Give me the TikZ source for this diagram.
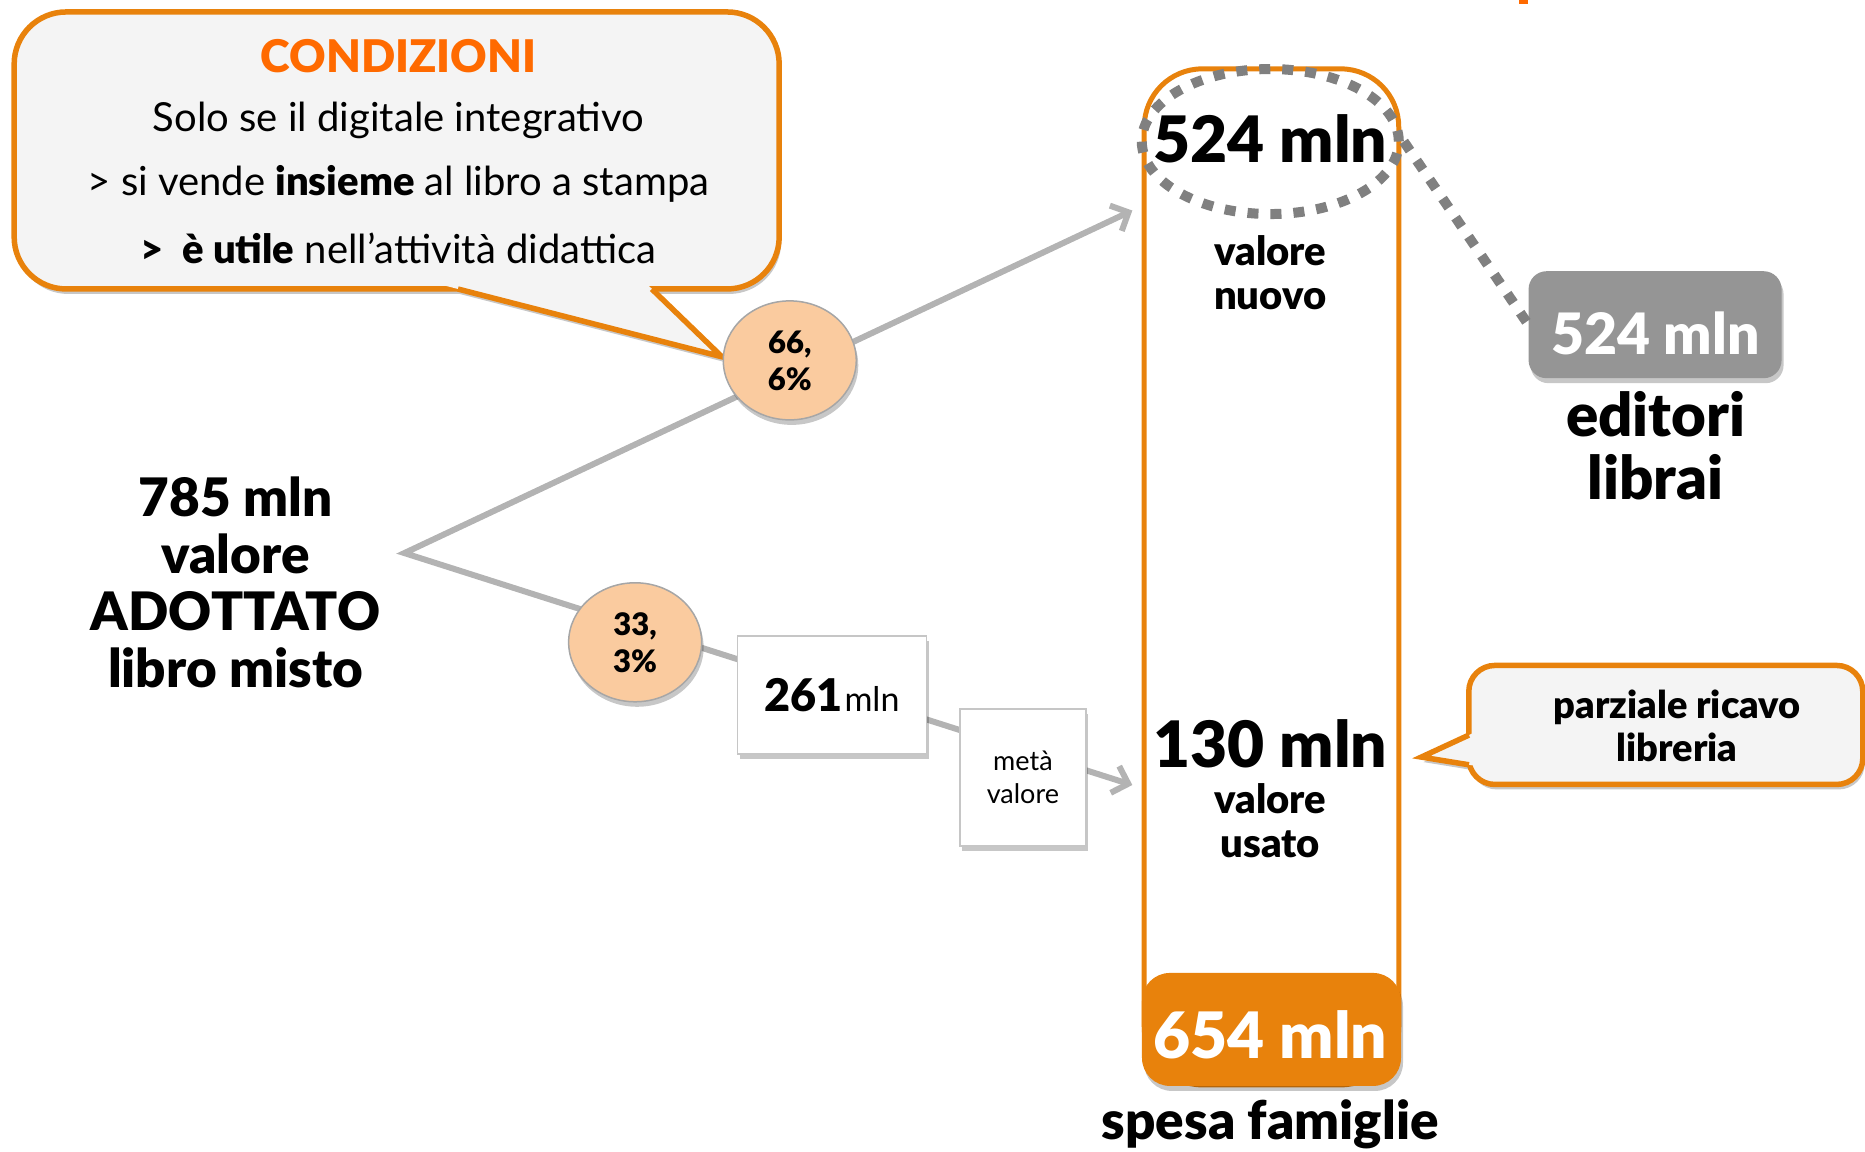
\documentclass[tikz,border=0pt]{standalone}
\usepackage{fontspec}
\setmainfont{Lato}[BoldFont={Lato Black}]
\usetikzlibrary{shadows,arrows.meta,backgrounds,shapes.geometric}
\definecolor{orng}{HTML}{E8820C}
\definecolor{orngtxt}{HTML}{FF6A00}
\definecolor{calfill}{HTML}{F4F4F4}
\definecolor{peach}{HTML}{FACB9F}
\definecolor{lgray}{HTML}{B3B3B3}
\definecolor{dgray}{HTML}{808080}
\definecolor{boxgray}{HTML}{959595}
\tikzset{
  shd/.style={drop shadow={shadow xshift=2pt,shadow yshift=-5pt,opacity=0.22,fill=black}},
  pct/.style={ellipse, fill=peach, draw=gray!70, line width=1.5pt, minimum width=133pt,
    minimum height=119pt, inner sep=0pt, align=center,
    font=\bfseries\fontsize{31}{37}\selectfont, shd},
  wbox/.style={rectangle, fill=white, draw=gray!45, line width=1.5pt, align=center,
    inner sep=0pt, shd},
  flow/.style={lgray, line width=6pt, line join=miter},
  bigtxt/.style={font=\bfseries\fontsize{64}{68}\selectfont, inner sep=0pt},
  midtxt/.style={font=\bfseries\fontsize{40}{44}\selectfont, align=center, inner sep=0pt},
  caltxt/.style={font=\fontsize{40}{44}\selectfont, inner sep=0pt},
  dots/.style={draw=dgray, line width=10pt, dash pattern=on 11pt off 12pt},
  callout/.style={rectangle, fill=calfill, draw=orng, line width=5.5pt, inner sep=0pt},
}
\begin{document}
\begin{tikzpicture}[x=1.1894pt,y=-1.1894pt]
\useasboundingbox (0,0) rectangle (1568,968);
% fragment of cut-off title
\fill[orngtxt] (1277,0) rectangle (1285,3.5);

% ---- callout CONDIZIONI
\fill[black,opacity=0.22,xshift=2pt,yshift=-5pt] (385,243) -- (607,300) -- (548,243) -- cycle;
\node[callout, rounded corners=52pt, minimum width=765pt, minimum height=277pt, shd]
  (cond) at (333.5,126.5) {};
\fill[calfill] (358,236) -- (607,300) -- (541,236) -- cycle;
\draw[orng, line width=5.5pt, line join=miter] (385,243) -- (607,300) -- (548,243);
\node[font=\bfseries\fontsize{45}{48}\selectfont, text=orngtxt, inner sep=0pt] (ctitle) at (335,47) {CONDIZIONI};
\node[caltxt] (cl1) at (335,101) {Solo se il digitale integrativo};
\node[caltxt] (cl2) at (335,155) {> si vende \textbf{insieme} al libro a stampa};
\node[caltxt] (cl3) at (335,209) {\textbf{>\ \ è utile} nell’attività didattica};

% ---- left text
\node[font=\bfseries\fontsize{53}{57}\selectfont, align=center, inner sep=0pt] (adott) at (198,490)
  {785 mln\\valore\\ADOTTATO\\libro misto};

% ---- percentage circles and boxes
\node[pct] (c66) at (664,303) {66,\\6\%};
\node[pct] (c33) at (534,540) {33,\\3\%};
\node[wbox, minimum width=189pt, minimum height=118pt] (b261) at (699.5,584.5)
  {{\bfseries\fontsize{45}{50}\selectfont 261}\,{\fontsize{34}{40}\selectfont mln}};
\node[wbox, minimum width=126pt, minimum height=137pt, font=\fontsize{27}{33}\selectfont]
  (meta) at (860,653.5) {metà\\valore};

% ---- column
\node[rectangle, draw=orng, fill=white, line width=5pt, rounded corners=58pt,
  minimum width=254.5pt, minimum height=1016pt] (col) at (1069,485) {};
\node[rectangle, fill=orng, rounded corners=28pt, minimum width=259pt, minimum height=113pt, shd]
  (tot) at (1069,865.5) {};
\node[bigtxt, text=white] (totxt) at (1068,870) {654 mln};
\node[ellipse, dots, minimum width=257pt, minimum height=145pt] (ell) at (1068,119) {};
\node[bigtxt] (nuovo) at (1068,117) {524 mln};
\node[midtxt] (nuovotxt) at (1068,229) {valore\\nuovo};
\node[bigtxt] (usato) at (1068,625) {130 mln};
\node[midtxt] (usatotxt) at (1068,690) {valore\\usato};
\node[font=\bfseries\fontsize{53}{58}\selectfont, inner sep=0pt] (spesa) at (1068,945) {spesa famiglie};

% ---- editori
\node[rectangle, fill=boxgray, rounded corners=18pt, minimum width=253pt, minimum height=107pt, shd]
  (gbox) at (1391.5,273) {};
\node[font=\bfseries\fontsize{57}{62}\selectfont, text=white, inner sep=0pt] (gtxt) at (1392,280) {524 mln};
\node[font=\bfseries\fontsize{60}{63}\selectfont, align=center, inner sep=0pt] (edit) at (1392,375)
  {editori\\librai};
\draw[dots] (ell.east) -- (gbox.west);

% ---- callout parziale ricavo
\fill[black,opacity=0.22,xshift=2pt,yshift=-5pt] (1235,618) -- (1195,636.5) -- (1235,643) -- cycle;
\node[callout, rounded corners=26pt, minimum width=394pt, minimum height=119pt, shd]
  (parz) at (1400.5,609.5) {};
\fill[calfill] (1241,615.2) -- (1195,636.5) -- (1241,644) -- cycle;
\draw[orng, line width=5.5pt, line join=miter] (1235,618) -- (1195,636.5) -- (1235,643);
\node[font=\bfseries\fontsize{38}{43}\selectfont, align=center, inner sep=0pt] (parztxt) at (1410,610)
  {parziale ricavo\\libreria};

% ---- flow lines
\coordinate (j) at (340,465);
\coordinate (t1) at (952,177);
\coordinate (t2) at (952,660);
\begin{scope}[on background layer]
\draw[flow, {Straight Barb[length=14pt,width=28pt]}-{Straight Barb[length=14pt,width=28pt]}]
  (t1) -- (j) -- (t2);
\end{scope}
\end{tikzpicture}
\end{document}
